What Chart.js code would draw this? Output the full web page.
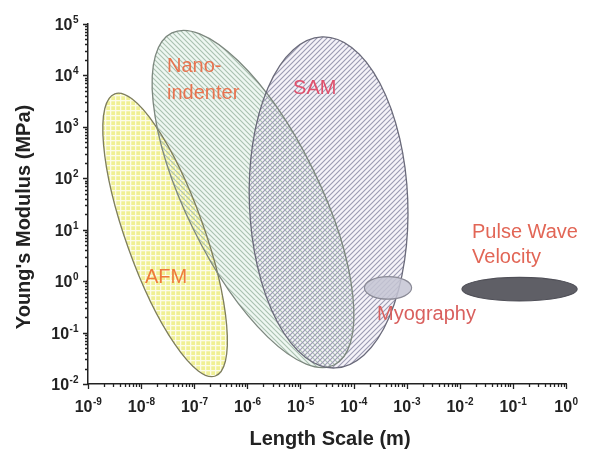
<!DOCTYPE html>
<html><head><meta charset="utf-8">
<script src="https://cdn.jsdelivr.net/npm/chart.js@4.4.0/dist/chart.umd.min.js"></script>
<style>html,body{margin:0;padding:0;background:#fff;}canvas{display:block;}</style>
</head><body>
<canvas id="c" width="600" height="462"></canvas>
<script>
// ---- data ----
const techniques = ['AFM', 'Nano-indenter', 'SAM', 'Myography', 'Pulse Wave Velocity'];
// end points of each range ellipse's long axis (length scale in m, modulus in MPa)
const startLength  = [3.2e-9, 3.8e-8, 2.55e-5, 1.6e-4, 1.1e-2];
const startModulus = [4400, 67000, 56000, 0.74, 0.70];
const endLength    = [2.5e-7, 4.3e-5, 4.5e-5, 1.24e-3, 1.62];
const endModulus   = [0.0143, 0.0234, 0.0205, 0.74, 0.70];
// half width across the long axis, in decades
const halfWidthDecades = [0.76, 1.30, 1.54, 0.22, 0.23];
const xTickExponents = ['-9', '-8', '-7', '-6', '-5', '-4', '-3', '-2', '-1', '0'];
const yTickExponents = ['-2', '-1', '0', '1', '2', '3', '4', '5'];
const labelLines = [['AFM'], ['Nano-', 'indenter'], ['SAM'], ['Myography'], ['Pulse Wave', 'Velocity']];

// ---- presentation ----
const labelAnchors = [
  [[1.18e-8, 0.92]],
  [[3.08e-8, 11600], [3.08e-8, 3480]],
  [[7.26e-6, 4350]],
  [[2.77e-4, 0.175]],
  [[1.7e-2, 6.9], [1.7e-2, 2.25]]
];
const labelColors = ['#ee7a3c', '#e8734f', '#e0506c', '#d9605e', '#e26656'];

function tile(size, draw) {
  const c = document.createElement('canvas');
  c.width = size; c.height = size;
  const g = c.getContext('2d');
  draw(g, size);
  return c;
}
function hatch(dir, color, lw, size) {
  return tile(size, (g, s) => {
    g.strokeStyle = color; g.lineWidth = lw; g.beginPath();
    if (dir === 'back') {
      g.moveTo(-1, -1); g.lineTo(s + 1, s + 1);
      g.moveTo(-1, s - 1); g.lineTo(1, s + 1);
      g.moveTo(s - 1, -1); g.lineTo(s + 1, 1);
    } else {
      g.moveTo(-1, s + 1); g.lineTo(s + 1, -1);
      g.moveTo(-1, 1); g.lineTo(1, -1);
      g.moveTo(s - 1, s + 1); g.lineTo(s + 1, s - 1);
    }
    g.stroke();
  });
}
function grid(bg, color, size) {
  return tile(size, (g, s) => {
    g.fillStyle = bg; g.fillRect(0, 0, s, s);
    g.fillStyle = color; g.fillRect(0, 0, s, 1.3); g.fillRect(0, 0, 1.3, s);
  });
}

const styles = [
  { bg: '#f1f19a', pattern: () => grid('#f0f094', '#fcfce8', 5), stroke: '#7d7d5e' },
  { bg: '#eff7f2', pattern: () => hatch('back', '#a9c1b0', 1.1, 5), stroke: '#7c877e' },
  { bg: '#f5f3f9', pattern: () => hatch('fwd', '#9a9ab2', 1.1, 5), stroke: '#6a6a7a' },
  { bg: 'rgba(196,196,212,0.85)', stroke: '#8a8a96' },
  { bg: '#5f5f66', stroke: '#505058' }
];

const datasets = techniques.map((name, i) => ({
  label: name,
  data: [{ x: startLength[i], y: startModulus[i] }, { x: endLength[i], y: endModulus[i] }],
  halfWidth: halfWidthDecades[i],
  pointRadius: 0, showLine: false
}));

const FONT = '"Liberation Sans", Arial, Helvetica, sans-serif';

const rangePlugin = {
  id: 'ranges',
  afterDatasetsDraw(chart) {
    const ctx = chart.ctx, xs = chart.scales.x, ys = chart.scales.y;
    const dec = Math.abs(ys.getPixelForValue(1) - ys.getPixelForValue(10));
    const geo = chart.data.datasets.map(ds => {
      const x1 = xs.getPixelForValue(ds.data[0].x), y1 = ys.getPixelForValue(ds.data[0].y);
      const x2 = xs.getPixelForValue(ds.data[1].x), y2 = ys.getPixelForValue(ds.data[1].y);
      return { cx: (x1 + x2) / 2, cy: (y1 + y2) / 2, a: Math.hypot(x2 - x1, y2 - y1) / 2,
               b: ds.halfWidth * dec, ang: Math.atan2(y2 - y1, x2 - x1) };
    });
    const path = g => { ctx.beginPath(); ctx.ellipse(g.cx, g.cy, g.a, g.b, g.ang, 0, Math.PI * 2); };
    ctx.save();
    [1, 2, 0].forEach(i => { path(geo[i]); ctx.fillStyle = styles[i].bg; ctx.fill(); });
    [0, 1, 2].forEach(i => {
      path(geo[i]);
      ctx.fillStyle = ctx.createPattern(styles[i].pattern(), 'repeat');
      ctx.fill();
    });
    [0, 1, 2].forEach(i => { path(geo[i]); ctx.lineWidth = 1.3; ctx.strokeStyle = styles[i].stroke; ctx.stroke(); });
    [3, 4].forEach(i => {
      path(geo[i]); ctx.fillStyle = styles[i].bg; ctx.fill();
      ctx.lineWidth = 1.2; ctx.strokeStyle = styles[i].stroke; ctx.stroke();
    });
    ctx.font = '20px ' + FONT; ctx.textAlign = 'left'; ctx.textBaseline = 'alphabetic';
    labelLines.forEach((lines, i) => {
      ctx.fillStyle = labelColors[i];
      lines.forEach((t, j) => {
        const an = labelAnchors[i][j];
        ctx.fillText(t, xs.getPixelForValue(an[0]), ys.getPixelForValue(an[1]));
      });
    });

    const ca = chart.chartArea;
    ctx.strokeStyle = '#222'; ctx.lineWidth = 1.3;
    ctx.beginPath();
    for (let e = -9; e <= 0; e++) {
      for (let k = 1; k <= 9; k++) {
        const v = k * Math.pow(10, e);
        if (v > 1.0000001) break;
        const px = Math.round(xs.getPixelForValue(v)) + 0.5;
        ctx.moveTo(px, ca.bottom); ctx.lineTo(px, ca.bottom + (k === 1 ? 5 : 3));
      }
    }
    for (let e = -2; e <= 5; e++) {
      for (let k = 1; k <= 9; k++) {
        const v = k * Math.pow(10, e);
        if (v > 100000.1) break;
        const py = Math.round(ys.getPixelForValue(v)) + 0.5;
        ctx.moveTo(ca.left, py); ctx.lineTo(ca.left - (k === 1 ? 5 : 3), py);
      }
    }
    ctx.stroke();

    ctx.fillStyle = '#222';
    const base = 'bold 16px ' + FONT, sup = 'bold 10px ' + FONT;
    xTickExponents.forEach(ex => {
      const px = xs.getPixelForValue(Math.pow(10, +ex));
      ctx.font = base; const w1 = ctx.measureText('10').width;
      ctx.font = sup; const w2 = ctx.measureText(ex).width;
      const x0 = px - (w1 + w2) / 2;
      ctx.font = base; ctx.fillText('10', x0, ca.bottom + 28);
      ctx.font = sup; ctx.fillText(ex, x0 + w1 + 0.5, ca.bottom + 21);
    });
    yTickExponents.forEach(ex => {
      const py = ys.getPixelForValue(Math.pow(10, +ex));
      ctx.font = base; const w1 = ctx.measureText('10').width;
      ctx.font = sup; const w2 = ctx.measureText(ex).width;
      const x0 = ca.left - 10 - w1 - w2;
      ctx.font = base; ctx.fillText('10', x0, py + 6);
      ctx.font = sup; ctx.fillText(ex, x0 + w1 + 0.5, py - 1);
    });
    ctx.font = 'bold 20px ' + FONT; ctx.textAlign = 'center';
    ctx.fillText('Length Scale (m)', (ca.left + ca.right) / 2 + 3, ca.bottom + 61);
    ctx.translate(30, (ca.top + ca.bottom) / 2 + 13);
    ctx.rotate(-Math.PI / 2);
    ctx.fillText("Young's Modulus (MPa)", 0, 0);
    ctx.restore();
  }
};

new Chart(document.getElementById('c'), {
  type: 'scatter',
  data: { datasets },
  options: {
    responsive: false, animation: false,
    layout: { padding: { left: 88, right: 34, top: 24, bottom: 78 } },
    plugins: { legend: { display: false }, tooltip: { enabled: false } },
    scales: {
      x: { type: 'logarithmic', min: 1e-9, max: 1,
           ticks: { display: false }, grid: { display: false, drawTicks: false },
           border: { display: true, color: '#222', width: 1.5 },
           afterFit: s => { s.height = 0; } },
      y: { type: 'logarithmic', min: 0.01, max: 1e5,
           ticks: { display: false }, grid: { display: false, drawTicks: false },
           border: { display: true, color: '#222', width: 1.5 },
           afterFit: s => { s.width = 0; } }
    }
  },
  plugins: [rangePlugin]
});
</script>
</body></html>
